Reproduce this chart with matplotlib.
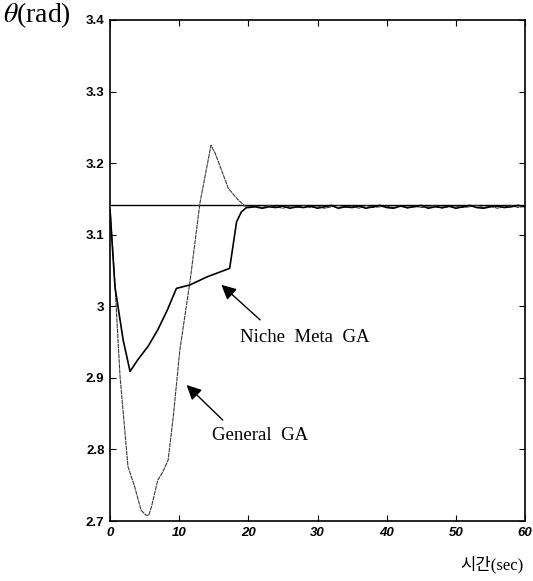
import matplotlib
matplotlib.use("Agg")
import matplotlib.pyplot as plt
import numpy as np

plt.rcParams['mathtext.fontset'] = 'stix'

# ---- data ----
niche_t = [0, 0.72, 1.9, 2.9, 4.0, 5.5, 6.9, 8.3, 9.6, 11.6, 14.0, 17.3, 18.3, 19.0, 19.75]
niche_y = [3.135, 3.027, 2.953, 2.909, 2.925, 2.944, 2.967, 2.995, 3.025, 3.030, 3.041, 3.053, 3.118, 3.132, 3.138]

general_t = [0, 0.72, 1.45, 2.17, 2.6, 3.56, 4.5, 5.2, 5.6, 6.0, 6.9, 7.66, 8.4, 9.15, 10.1, 11.6, 13.0, 14.6, 15.2, 17.1, 18.3, 19.5]
general_y = [3.14, 3.03, 2.902, 2.823, 2.776, 2.748, 2.715, 2.708, 2.708, 2.72, 2.757, 2.769, 2.785, 2.846, 2.939, 3.037, 3.144, 3.225, 3.214, 3.165, 3.151, 3.140]

tail_t = [20, 21, 22, 23, 24, 25, 26, 27, 28, 29, 30, 31, 32, 33, 34, 35, 36, 37, 38, 39, 40,
          41, 42, 43, 44, 45, 46, 47, 48, 49, 50, 51, 52, 53, 54, 55, 56, 57, 58, 59, 60]
niche_tail = [3.138, 3.139, 3.137, 3.139, 3.138, 3.140, 3.137, 3.139, 3.138, 3.140, 3.137,
              3.139, 3.141, 3.137, 3.139, 3.138, 3.140, 3.137, 3.139, 3.141, 3.138,
              3.137, 3.140, 3.138, 3.139, 3.141, 3.137, 3.139, 3.138, 3.140, 3.137,
              3.139, 3.141, 3.138, 3.137, 3.139, 3.140, 3.138, 3.139, 3.141, 3.139]
general_tail = [3.139, 3.140, 3.138, 3.141, 3.139, 3.137, 3.140, 3.138, 3.141, 3.138, 3.140,
                3.137, 3.139, 3.141, 3.138, 3.140, 3.137, 3.141, 3.138, 3.139, 3.140,
                3.138, 3.141, 3.137, 3.140, 3.138, 3.139, 3.141, 3.137, 3.139, 3.140,
                3.138, 3.139, 3.141, 3.138, 3.140, 3.137, 3.139, 3.141, 3.138, 3.140]

ref_value = np.pi
xticks = [0, 10, 20, 30, 40, 50, 60]
yticks = [2.7, 2.8, 2.9, 3.0, 3.1, 3.2, 3.3, 3.4]
ytick_labels = ['2.7', '2.8', '2.9', '3', '3.1', '3.2', '3.3', '3.4']

fig = plt.figure(figsize=(5.33, 5.81), dpi=100)
ax = fig.add_axes([110/533, 1-521/581, 415/533, 501/581])

ax.axhline(ref_value, color='black', lw=1.0, zorder=2)
ax.plot(general_t + tail_t, general_y + general_tail, color='#3a3a3a', lw=0.8,
        ls=(0, (4, 0.6)), zorder=3)
ax.plot(niche_t + tail_t, niche_y + niche_tail, color='black', lw=1.2, zorder=4)

ax.set_xlim(0, 60)
ax.set_ylim(2.7, 3.4)
ax.set_xticks(xticks)
ax.set_yticks(yticks)
ax.set_yticklabels(ytick_labels)
ax.tick_params(direction='in', length=4, width=0.8, top=True, right=True,
               labelsize=9.5, pad=4)
for lab in ax.get_xticklabels() + ax.get_yticklabels():
    lab.set_fontfamily('Liberation Sans')
    lab.set_fontweight('bold')
for lab in ax.get_xticklabels():
    lab.set_fontstyle('italic')
for s in ax.spines.values():
    s.set_linewidth(1.2)

arrow = dict(arrowstyle='-|>', mutation_scale=22, color='black', lw=1.0, shrinkA=0, shrinkB=0)
ax.annotate('', xy=(16.1, 3.030), xytext=(21.7, 2.981), arrowprops=arrow)
ax.annotate('', xy=(11.08, 2.890), xytext=(16.3, 2.841), arrowprops=arrow)
ax.text(28.2, 2.957, 'Niche  Meta  GA', fontsize=13.5, family='Liberation Serif',
        ha='center', va='center')
ax.text(21.7, 2.820, 'General  GA', fontsize=13.5, family='Liberation Serif',
        ha='center', va='center')

fig.text(3/533, 1-15/581, r'$\theta$(rad)', fontsize=20, family='Liberation Serif',
         ha='left', va='center')
fig.text(492/533, 1-565/581, '시간(sec)', fontsize=12,
         family=['Liberation Serif', 'Noto Sans CJK KR'], ha='center', va='center')

fig.savefig('out.png', dpi=100)
